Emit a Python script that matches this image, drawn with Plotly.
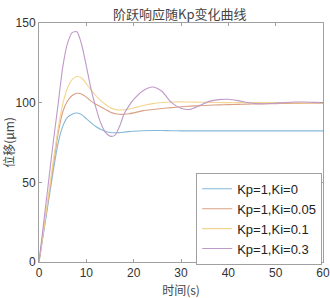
import plotly.graph_objects as go

t = [0, 1, 2, 3, 4, 5, 6, 7, 8, 9, 10, 11, 12, 13, 14, 15, 16, 17, 18, 19, 20,
     22, 24, 26, 28, 30, 32, 34, 36, 38, 40, 42, 44, 46, 48, 50, 52, 54, 56, 58, 60]

ki0 = [0, 19, 38, 57, 74, 85, 90.8, 92.8, 93.5, 92.5, 90, 87.3, 85, 83.3, 82, 81.3, 81.1, 81.2, 81.5, 81.8, 82.1,
       82.4, 82.5, 82.5, 82.4, 82.3, 82.3, 82.3, 82.3, 82.3, 82.3, 82.3, 82.3, 82.3, 82.3, 82.3, 82.3, 82.3, 82.3, 82.3, 82.3]

ki005 = [0, 20, 40, 60, 80, 94, 101, 104.5, 105.9, 105.5, 103.5, 101, 99, 97.5, 95.8, 94.2, 93.2, 92.7, 92.7, 93, 93.6,
         95, 95.7, 96.3, 96.9, 97.4, 97.8, 98.1, 98.4, 98.6, 98.8, 98.9, 99.1, 99.2, 99.3, 99.4, 99.5, 99.5, 99.6, 99.6, 99.7]

ki01 = [0, 21, 42, 63, 83, 99, 109, 114.5, 116.4, 115.5, 112, 108, 104.5, 101.5, 99, 97, 95.8, 95.4, 95.5, 96, 96.7,
        98.2, 99.4, 100.1, 100.4, 100.5, 100.4, 100.3, 100.2, 100.1, 100, 100, 100, 100, 100, 100, 100, 99.9, 99.9, 99.9, 99.9]

ki03 = [0, 25, 50, 75, 98, 122, 137, 144, 144.5, 136.5, 123, 108.5, 97, 87.5, 81.5, 79, 79.5, 85, 93, 98, 102,
        107.5, 109.8, 107, 100, 96.5, 95.8, 98.3, 100.8, 101.9, 102.1, 101.3, 100.1, 99.4, 99.3, 99.6, 100.1, 100.4, 100.4, 100.2, 100]

names = ["Kp=1,Ki=0", "Kp=1,Ki=0.05", "Kp=1,Ki=0.1", "Kp=1,Ki=0.3"]
series = [ki0, ki005, ki01, ki03]
colors = ["#86b8da", "#d9a085", "#f2d690", "#bf99c9"]

x_ticks = [0, 10, 20, 30, 40, 50, 60]
y_ticks = [0, 50, 100, 150]

fig = go.Figure()
for n, s, c in zip(names, series, colors):
    fig.add_trace(go.Scatter(x=t, y=s, name=n, mode="lines",
                             line=dict(color=c, width=1.1, shape="spline", smoothing=0.7)))

axis_common = dict(showline=True, linecolor="#a0a0a0", linewidth=1, mirror="ticks",
                   ticks="inside", ticklen=3, tickcolor="#a0a0a0", showgrid=False, zeroline=False,
                   automargin=False,
                   tickfont=dict(family="Liberation Sans, Arial", size=12, color="#333333"))

fig.update_layout(
    width=330, height=298,
    margin=dict(l=39, r=7, t=23, b=36),
    paper_bgcolor="white", plot_bgcolor="white",
    title=dict(text="阶跃响应随Kp变化曲线", x=0.545, xanchor="center", y=0.953, yanchor="middle",
               font=dict(family="Noto Sans CJK SC", size=13, color="#444444")),
    xaxis=dict(range=[0, 60], tickvals=x_ticks,
               title=dict(text="时间(s)",
                          font=dict(family="Noto Sans CJK SC", size=12, color="#444444")),
               **axis_common),
    yaxis=dict(range=[0, 150], tickvals=y_ticks,
               title=dict(text="位移(μm)",
                          font=dict(family="Noto Sans CJK SC", size=12, color="#444444")),
               **axis_common),
    legend=dict(x=0.997, y=-0.012, xanchor="right", yanchor="bottom",
                bgcolor="white", bordercolor="#a0a0a0", borderwidth=1,
                font=dict(family="Liberation Sans, Arial", size=13, color="#222222"),
                tracegroupgap=0, itemwidth=30),
    showlegend=True,
)

fig.write_html("out.html", config={"displayModeBar": False},
               post_script="document.body.style.margin='0';document.body.style.padding='0';")
